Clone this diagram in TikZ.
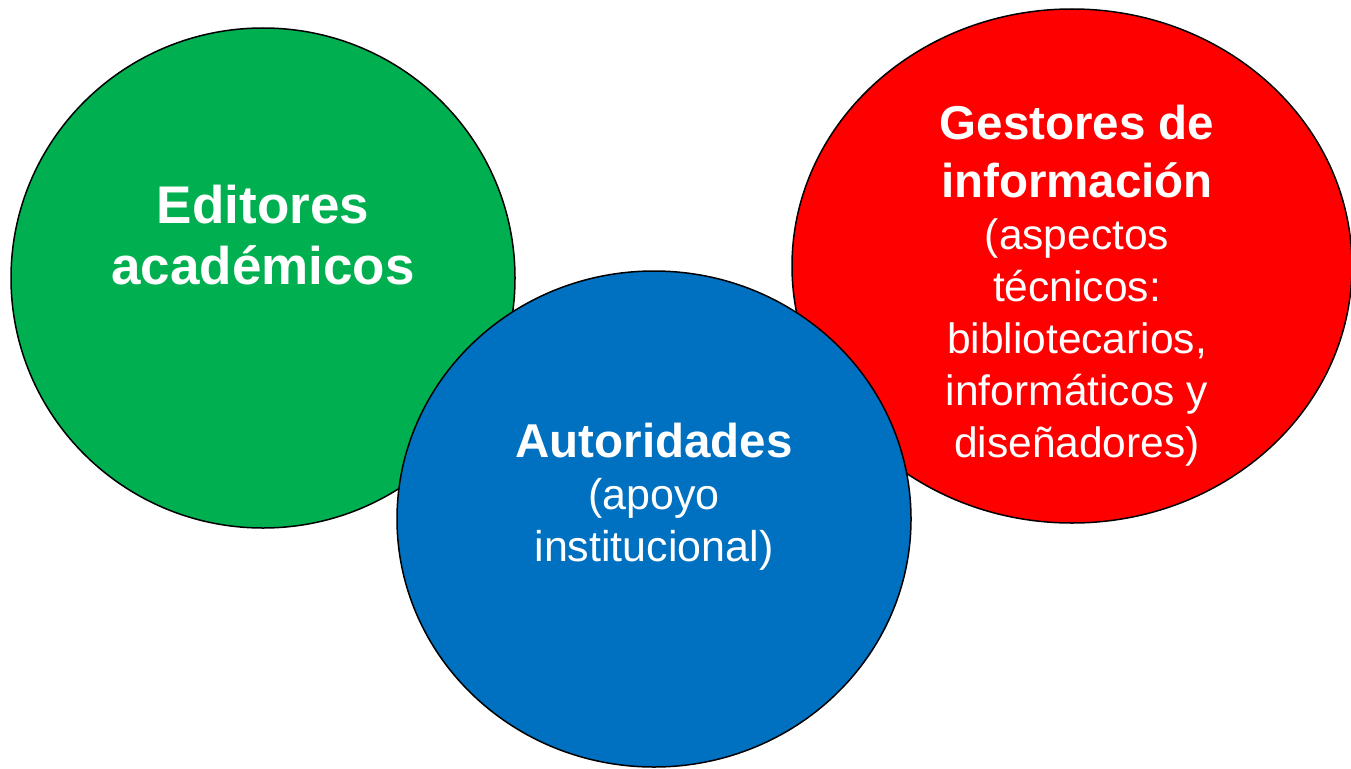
\documentclass[tikz,border=0pt]{standalone}
\usepackage{fontspec}
\setmainfont{Liberation Sans}
\usetikzlibrary{shapes.geometric}

\definecolor{verde}{RGB}{0,176,80}
\definecolor{azul}{RGB}{0,112,192}
\definecolor{rojo}{RGB}{255,0,0}

\begin{document}
\begin{tikzpicture}[x=1pt, y=-1pt,
    circulo/.style={ellipse, draw=black, line width=1.5pt, inner sep=0pt},
    texto/.style={text=white, align=center, inner sep=0pt}]
    \useasboundingbox (0,0) rectangle (1351,768);
    % circles
    \node (editores) [circulo, fill=verde, minimum width=504pt, minimum height=500pt] at (263,278) {};
    \node (gestores) [circulo, fill=rojo, minimum width=560pt, minimum height=514pt] at (1072,266) {};
    \node (autoridades) [circulo, fill=azul, minimum width=514pt, minimum height=496pt] at (654,519) {};
    % texts
    \node (editoresTxt) [texto, font=\bfseries\fontsize{53}{61}\selectfont] at (263,235)
        {Editores\\acad\'emicos};
    \node (autoridadesTxt) [texto, font=\fontsize{43}{52}\selectfont] at (654,497)
        {{\bfseries\fontsize{47.5}{52}\selectfont Autoridades}\\(apoyo\\institucional)};
    \node (gestoresTxt) [texto, font=\fontsize{42.5}{52}\selectfont] at (1077,286)
        {{\bfseries\fontsize{47.5}{52}\selectfont Gestores de}\\[6pt]
         {\bfseries\fontsize{47.5}{52}\selectfont informaci\'on}\\(aspectos\\t\'ecnicos:\\
         bibliotecarios,\\inform\'aticos y\\dise\~nadores)};
\end{tikzpicture}
\end{document}
